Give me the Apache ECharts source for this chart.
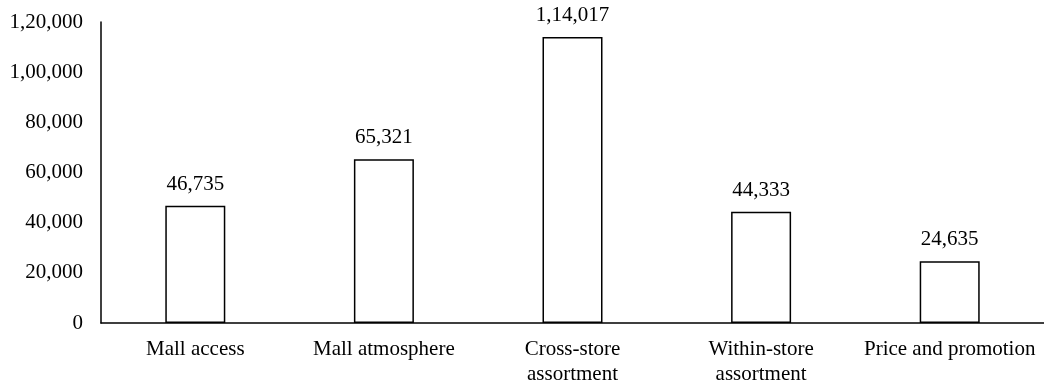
<!DOCTYPE html>
<html>
<head>
<meta charset="utf-8">
<script src="https://cdn.jsdelivr.net/npm/echarts@6/dist/echarts.min.js"></script>
<style>
  html, body { margin: 0; padding: 0; background: #fff; }
  #chart { width: 1044px; height: 385px; }
</style>
</head>
<body>
<div id="chart"></div>
<script>
// Shopping-mall attribute scores
const categories = ['Mall access', 'Mall atmosphere', 'Cross-store\nassortment', 'Within-store\nassortment', 'Price and promotion'];
const values = [46735, 65321, 114017, 44333, 24635];
const yTicks = [0, 20000, 40000, 60000, 80000, 100000, 120000];

// Indian digit grouping: 1,14,017
function indianFormat(n) {
  const s = String(Math.round(n));
  if (s.length <= 3) return s;
  const last3 = s.slice(-3);
  let rest = s.slice(0, -3);
  const parts = [];
  while (rest.length > 2) {
    parts.unshift(rest.slice(-2));
    rest = rest.slice(0, -2);
  }
  if (rest) parts.unshift(rest);
  return parts.join(',') + ',' + last3;
}

const font = 'Liberation Serif';
const chart = echarts.init(document.getElementById('chart'));
chart.setOption({
  animation: false,
  grid: { left: 101, right: 0, top: 22, bottom: 62, outerBoundsMode: 'none', containLabel: false },
  xAxis: {
    type: 'category',
    data: categories,
    axisLine: { lineStyle: { color: '#000', width: 1.5 } },
    axisTick: { show: false },
    axisLabel: { color: '#000', fontFamily: font, fontSize: 21, margin: 14, lineHeight: 25, interval: 0 }
  },
  yAxis: {
    type: 'value',
    min: yTicks[0],
    max: yTicks[yTicks.length - 1],
    interval: yTicks[1] - yTicks[0],
    axisLine: { show: true, lineStyle: { color: '#000', width: 1.5 } },
    axisTick: { show: false },
    splitLine: { show: false },
    axisLabel: { color: '#000', fontFamily: font, fontSize: 21, margin: 18, formatter: indianFormat }
  },
  series: [{
    type: 'bar',
    data: values,
    barWidth: 60,
    itemStyle: { color: '#fff', borderColor: '#000', borderWidth: 1.5 },
    label: {
      show: true,
      position: 'top',
      distance: 11,
      color: '#000',
      fontFamily: font,
      fontSize: 21,
      formatter: p => indianFormat(p.value)
    }
  }]
});
</script>
</body>
</html>
